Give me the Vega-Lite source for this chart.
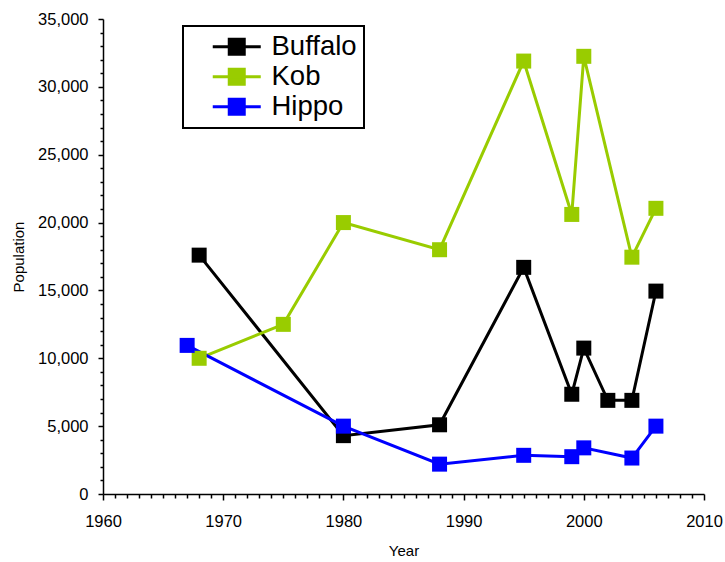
{
  "$schema": "https://vega.github.io/schema/vega-lite/v6.json",
  "width": 601,
  "height": 475,
  "autosize": {"type": "none"},
  "padding": {"left": 103, "top": 19, "right": 21, "bottom": 68},
  "background": "white",
  "config": {
    "view": {"stroke": null},
    "font": "Liberation Sans",
    "axis": {"grid": false, "domainColor": "black", "tickColor": "black", "labelColor": "black", "titleColor": "black", "domainWidth": 1.5, "tickWidth": 1.5, "labelFont": "Liberation Sans", "titleFont": "Liberation Sans", "labelFontSize": 16.5, "titleFontWeight": "normal"}
  },
  "data": {"values": [
    {"Year": 1968, "Species": "Buffalo", "Population": 17600},
    {"Year": 1980, "Species": "Buffalo", "Population": 4300},
    {"Year": 1988, "Species": "Buffalo", "Population": 5100},
    {"Year": 1995, "Species": "Buffalo", "Population": 16700},
    {"Year": 1999, "Species": "Buffalo", "Population": 7350},
    {"Year": 2000, "Species": "Buffalo", "Population": 10750},
    {"Year": 2002, "Species": "Buffalo", "Population": 6900},
    {"Year": 2004, "Species": "Buffalo", "Population": 6900},
    {"Year": 2006, "Species": "Buffalo", "Population": 14950},
    {"Year": 1968, "Species": "Kob", "Population": 10000},
    {"Year": 1975, "Species": "Kob", "Population": 12500},
    {"Year": 1980, "Species": "Kob", "Population": 20000},
    {"Year": 1988, "Species": "Kob", "Population": 18000},
    {"Year": 1995, "Species": "Kob", "Population": 31900},
    {"Year": 1999, "Species": "Kob", "Population": 20600},
    {"Year": 2000, "Species": "Kob", "Population": 32250},
    {"Year": 2004, "Species": "Kob", "Population": 17450},
    {"Year": 2006, "Species": "Kob", "Population": 21050},
    {"Year": 1967, "Species": "Hippo", "Population": 10950},
    {"Year": 1980, "Species": "Hippo", "Population": 5000},
    {"Year": 1988, "Species": "Hippo", "Population": 2200},
    {"Year": 1995, "Species": "Hippo", "Population": 2850},
    {"Year": 1999, "Species": "Hippo", "Population": 2750},
    {"Year": 2000, "Species": "Hippo", "Population": 3400},
    {"Year": 2004, "Species": "Hippo", "Population": 2650},
    {"Year": 2006, "Species": "Hippo", "Population": 5000}
  ]},
  "encoding": {
    "x": {"field": "Year", "type": "quantitative",
      "scale": {"domain": [1960, 2010], "nice": false, "zero": false},
      "axis": {"values": [1960,1961,1962,1963,1964,1965,1966,1967,1968,1969,1970,1971,1972,1973,1974,1975,1976,1977,1978,1979,1980,1981,1982,1983,1984,1985,1986,1987,1988,1989,1990,1991,1992,1993,1994,1995,1996,1997,1998,1999,2000,2001,2002,2003,2004,2005,2006,2007,2008,2009,2010],
        "format": "d", "labelExpr": "datum.value % 10 === 0 ? datum.label : ''", "labelOverlap": false, "labelFlush": false,
        "labelFontSize": 16.5,
        "tickSize": {"condition": {"test": "datum.value % 10 === 0", "value": 6}, "value": 4},
        "labelPadding": 13, "title": "Year", "titleFontSize": 15, "titlePadding": 14}},
    "y": {"field": "Population", "type": "quantitative",
      "scale": {"domain": [0, 35000], "nice": false},
      "axis": {"values": [0,1000,2000,3000,4000,5000,6000,7000,8000,9000,10000,11000,12000,13000,14000,15000,16000,17000,18000,19000,20000,21000,22000,23000,24000,25000,26000,27000,28000,29000,30000,31000,32000,33000,34000,35000],
        "format": ",d", "labelExpr": "datum.value % 5000 === 0 ? datum.label : ''", "labelOverlap": false, "labelFlush": false,
        "labelFontSize": 16.5,
        "tickSize": {"condition": {"test": "datum.value % 5000 === 0", "value": 5}, "value": 3},
        "labelPadding": 10, "title": "Population", "titleFontSize": 15, "titlePadding": 11}},
    "color": {"field": "Species", "type": "nominal",
      "scale": {"domain": ["Buffalo", "Kob", "Hippo"], "range": ["#000000", "#99CC00", "#0000FF"]},
      "legend": {"title": null, "orient": "none", "legendX": 80, "legendY": 7,
        "strokeColor": "black", "fillColor": "white", "padding": 7,
        "labelFontSize": 27.5, "labelFont": "Liberation Sans", "labelColor": "black",
        "symbolType": "M-3.2,0H3.2M-1,-1H1V1H-1Z", "symbolSize": 225, "symbolStrokeWidth": 3,
        "symbolOffset": 33, "labelOffset": 21, "rowPadding": 1,
        "encode": {"legend": {"update": {"strokeWidth": {"value": 2}}}, "entries": {"update": {"width": {"value": 175}}}}}}
  },
  "layer": [
    {"mark": {"type": "line", "strokeWidth": 3}, "encoding": {"detail": {"field": "Species"}}},
    {"mark": {"type": "point", "shape": "square", "filled": true, "size": 225, "opacity": 1}}
  ]
}
